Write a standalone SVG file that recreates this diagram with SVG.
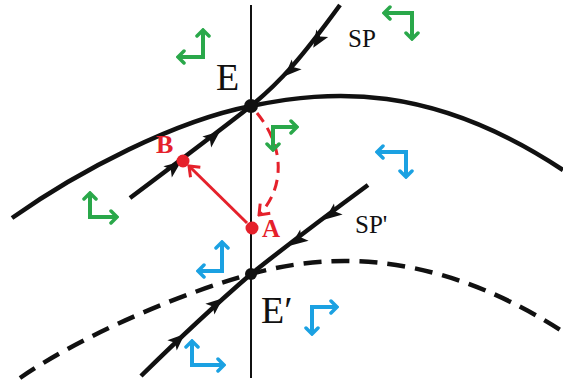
<svg xmlns="http://www.w3.org/2000/svg" width="563" height="380" viewBox="0 0 563 380">
<style>
.curve{fill:none;stroke:#111;stroke-width:4.5;stroke-linecap:butt}
.dash{fill:none;stroke:#111;stroke-width:4.5;stroke-dasharray:18 10}
.axis{fill:none;stroke:#111;stroke-width:2}
.dot{fill:#111}
.rdot{fill:#e5212b}
.ah{fill:#111}
.g{fill:none;stroke:#2aa84a;stroke-width:4;marker-start:url(#gm);marker-end:url(#gm)}
.b{fill:none;stroke:#1ba1e2;stroke-width:4;marker-start:url(#bm);marker-end:url(#bm)}
.lbl{font-family:"Liberation Serif","Times New Roman",serif;fill:#111}
.rl{font-family:"Liberation Serif","Times New Roman",serif;font-weight:bold;fill:#e5212b}
</style>
<defs>
<marker id="gm" viewBox="-8 -8 10 16" markerWidth="10" markerHeight="16" markerUnits="userSpaceOnUse" refX="0" refY="0" orient="auto-start-reverse">
<path d="M-6,-6 L0,0 L-6,6" fill="none" stroke="#2aa84a" stroke-width="3.5" stroke-linecap="round"/>
</marker>
<marker id="bm" viewBox="-8 -8 10 16" markerWidth="10" markerHeight="16" markerUnits="userSpaceOnUse" refX="0" refY="0" orient="auto-start-reverse">
<path d="M-6,-6 L0,0 L-6,6" fill="none" stroke="#1ba1e2" stroke-width="3.5" stroke-linecap="round"/>
</marker>
<marker id="rm" viewBox="-12 -10 14 20" markerWidth="14" markerHeight="20" markerUnits="userSpaceOnUse" refX="0" refY="0" orient="auto">
<path d="M-9,-7 L0,0 L-9,7" fill="none" stroke="#e5212b" stroke-width="3"/>
</marker>
<polygon id="tri" points="9,0 -8,-7 -4,0 -8,7"/>
</defs>

<g id="connectors">
<line class="axis" x1="251" y1="5" x2="251" y2="378"/>
<path id="manifold-E" class="curve" d="M12,218 C80,170 175,121 251,106 C330,90 430,82 563,170"/>
<path id="manifold-E2" class="dash" d="M20,378 C90,330 192,290 251,274 C310,258 420,240 562,331"/>
<path id="SP" class="curve" d="M340,5 C300,60 280,82 251,106 C210,138 170,168 130,198"/>
<path id="SP2" class="curve" d="M368,185 Q300,235 251,274 Q200,318 141,376"/>
<g class="ah">
<use href="#tri" transform="translate(318,40) rotate(122)"/>
<use href="#tri" transform="translate(291,70) rotate(135)"/>
<use href="#tri" transform="translate(213,137) rotate(-39)"/>
<use href="#tri" transform="translate(174,167) rotate(-37)"/>
<use href="#tri" transform="translate(332,214) rotate(142)"/>
<use href="#tri" transform="translate(298,240) rotate(143)"/>
<use href="#tri" transform="translate(216,304) rotate(-40)"/>
<use href="#tri" transform="translate(178,340) rotate(-42)"/>
</g>
<line x1="247" y1="223" x2="189" y2="166" stroke="#e5212b" stroke-width="3" marker-end="url(#rm)"/>
<path d="M257,113 C287,150 283,190 259,215" fill="none" stroke="#e5212b" stroke-width="3" stroke-dasharray="11 7" marker-end="url(#rm)"/>
</g>

<g id="node-E">
<circle class="dot" cx="251" cy="106" r="7"/>
<text class="lbl" x="216" y="90" font-size="38">E</text>
</g>
<g id="node-E2">
<circle class="dot" cx="251" cy="274" r="6"/>
<text class="lbl" x="261" y="323" font-size="38">E′</text>
</g>
<g id="node-A">
<circle class="rdot" cx="252" cy="228" r="6.5"/>
<text class="rl" x="262" y="237" font-size="25">A</text>
</g>
<g id="node-B">
<circle class="rdot" cx="183" cy="161" r="6.5"/>
<text class="rl" x="156" y="153" font-size="26">B</text>
</g>
<g id="labels">
<text class="lbl" x="348" y="47" font-size="25">SP</text>
<text class="lbl" x="355" y="233" font-size="25">SP'</text>
</g>

<g id="green-icons">
<path class="g" d="M203,30 L203,57 L178,57"/>
<path class="g" d="M384,13 L412,13 L412,39"/>
<path class="g" d="M297,127 L273,127 L273,150"/>
<path class="g" d="M90,193 L90,217 L117,217"/>
</g>
<g id="blue-icons">
<path class="b" d="M377,152 L406,152 L406,177"/>
<path class="b" d="M222,242 L222,271 L198,271"/>
<path class="b" d="M337,307 L312,307 L312,334"/>
<path class="b" d="M192,341 L192,365 L224,365"/>
</g>
</svg>
